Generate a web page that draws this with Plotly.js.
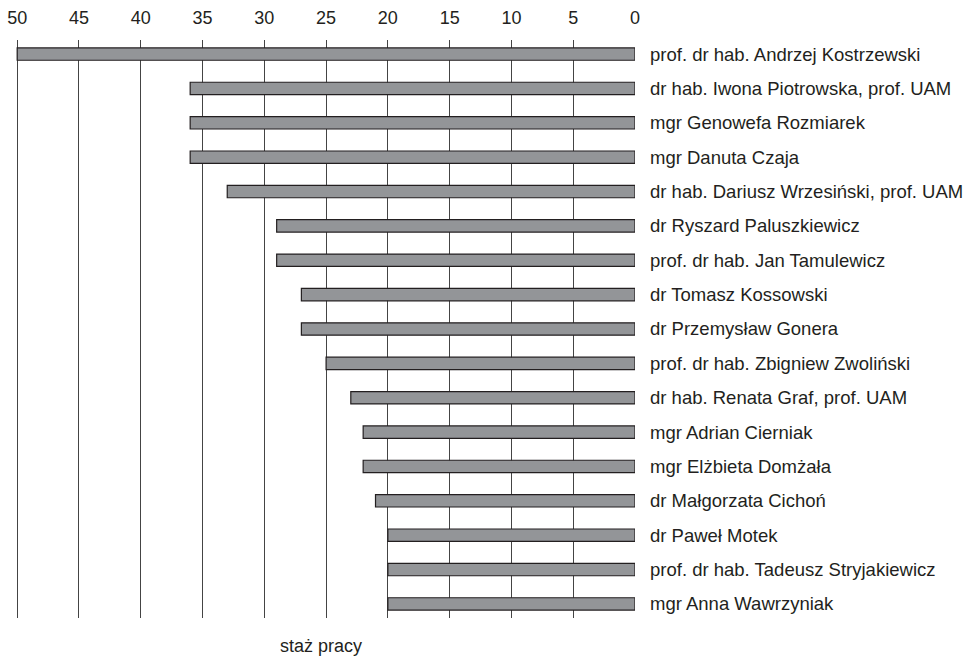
<!DOCTYPE html>
<html>
<head>
<meta charset="utf-8">
<script src="https://cdn.plot.ly/plotly-3.0.1.min.js"></script>
<style>html,body{margin:0;padding:0;background:#fff;}#chart{width:965px;height:658px;}</style>
</head>
<body>
<div id="chart"></div>
<script>
const names = [
  "prof. dr hab. Andrzej Kostrzewski",
  "dr hab. Iwona Piotrowska, prof. UAM",
  "mgr Genowefa Rozmiarek",
  "mgr Danuta Czaja",
  "dr hab. Dariusz Wrzesiński, prof. UAM",
  "dr Ryszard Paluszkiewicz",
  "prof. dr hab. Jan Tamulewicz",
  "dr Tomasz Kossowski",
  "dr Przemysław Gonera",
  "prof. dr hab. Zbigniew Zwoliński",
  "dr hab. Renata Graf, prof. UAM",
  "mgr Adrian Cierniak",
  "mgr Elżbieta Domżała",
  "dr Małgorzata Cichoń",
  "dr Paweł Motek",
  "prof. dr hab. Tadeusz Stryjakiewicz",
  "mgr Anna Wawrzyniak"
];
const stazPracy = [50, 36, 36, 36, 33, 29, 29, 27, 27, 25, 23, 22, 22, 21, 20, 20, 20];
const tickValues = [0, 5, 10, 15, 20, 25, 30, 35, 40, 45, 50];
const axisTitle = "staż pracy";

const trace = {
  type: 'bar',
  orientation: 'h',
  x: stazPracy,
  y: names,
  marker: {color: '#939598', line: {color: '#231f20', width: 1.2}},
  width: 0.36,
  hoverinfo: 'x+y'
};

const layout = {
  width: 965, height: 658,
  margin: {l: 11, r: 330, t: 40, b: 40},
  paper_bgcolor: '#fff', plot_bgcolor: '#fff',
  showlegend: false,
  font: {family: 'Liberation Sans, Arial, sans-serif', size: 18.5, color: '#231f20'},
  xaxis: {
    range: [50.5, 0],
    side: 'top',
    tickvals: tickValues,
    ticktext: tickValues.map(String),
    showgrid: true, gridcolor: '#444', gridwidth: 1,
    zeroline: false, showline: false,
    ticks: '', ticklabelstandoff: 11,
    tickfont: {size: 18, color: '#231f20'}
  },
  yaxis: {
    type: 'category',
    categoryorder: 'array', categoryarray: names,
    range: [16.41, -0.41],
    side: 'right',
    showgrid: false, zeroline: false, showline: false,
    ticks: '', ticklabelstandoff: 14,
    tickfont: {size: 18.5, color: '#231f20'}
  },
  annotations: [{
    text: axisTitle, xref: 'paper', yref: 'paper',
    x: 0.497, y: -0.049, xanchor: 'center', yanchor: 'middle',
    showarrow: false, font: {size: 18, color: '#231f20'}
  }]
};

Plotly.newPlot('chart', [trace], layout, {displayModeBar: false});
</script>
</body>
</html>
